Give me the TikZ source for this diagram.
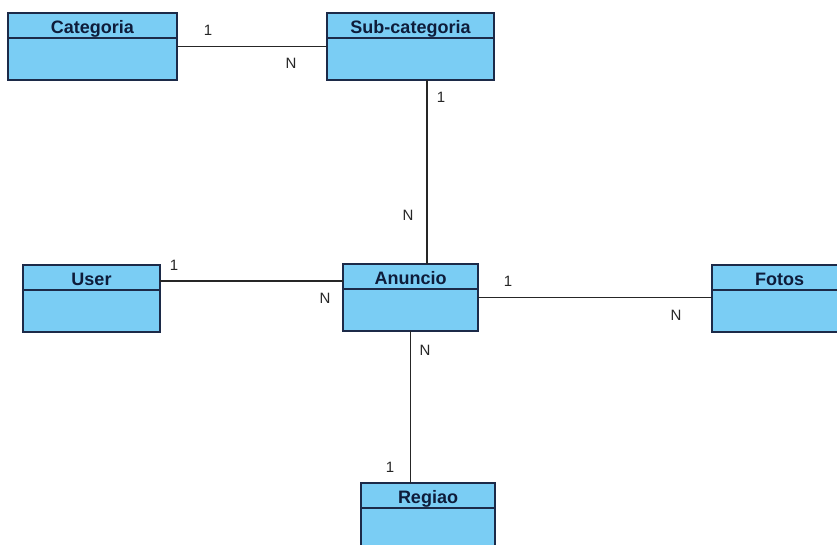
\documentclass[tikz,border=0pt]{standalone}
\usepackage{fontspec}
\setmainfont{Liberation Sans}
\begin{document}
\begin{tikzpicture}[x=1pt,y=-1pt,
  entity/.style={draw=boxline, fill=boxfill, line width=1.8pt, inner sep=0pt, outer sep=0pt,
    minimum height=67pt,
    path picture={\draw[boxline, line width=1.8pt]
      ([yshift=-25pt]path picture bounding box.north west) --
      ([yshift=-25pt]path picture bounding box.north east);}},
  title/.style={anchor=base, inner sep=0pt, font=\fontsize{18}{18}\selectfont\bfseries, text=titletext},
  card/.style={inner sep=0pt, font=\fontsize{15}{15}\selectfont, text=black!85},
  link/.style={draw=black!85, line width=1.6pt}]
\definecolor{boxfill}{RGB}{122,205,244}
\definecolor{boxline}{RGB}{28,42,72}
\definecolor{titletext}{RGB}{14,28,58}
\useasboundingbox (0,0) rectangle (837,544);

% entities
\node[entity, minimum width=169pt] (cat) at (92.5,46.5) {};
\node[entity, minimum width=167pt] (sub) at (410.5,46.5) {};
\node[entity, minimum width=137pt] (user) at (91.5,298.5) {};
\node[entity, minimum width=135pt] (an) at (410.5,297.5) {};
\node[entity, minimum width=135pt] (fotos) at (779.5,298.5) {};
\node[entity, minimum width=134pt] (reg) at (428,516.5) {};

% entity names
\node[title] (catT) at ([yshift=-20pt]cat.north) {Categoria};
\node[title] (subT) at ([yshift=-20pt]sub.north) {Sub-categoria};
\node[title] (userT) at ([yshift=-20pt]user.north) {User};
\node[title] (anT) at ([yshift=-20pt]an.north) {Anuncio};
\node[title] (fotosT) at ([yshift=-20pt]fotos.north) {Fotos};
\node[title] (regT) at ([yshift=-20pt]reg.north) {Regiao};

% relationships
\draw[link] (cat.east) -- (sub.west);
\draw[link] ([xshift=16.5pt]sub.south) -- ([xshift=16.5pt]sub.south |- an.north);
\draw[link] ([yshift=16.5pt]an.west) -- ([yshift=16.5pt]an.west -| user.east);
\draw[link] (an.east) -- (an.east -| fotos.west);
\draw[link] (an.south) -- (an.south |- reg.north);

% cardinalities
\node[card] (c1) at (208,30) {1};
\node[card] (c2) at (291,63) {N};
\node[card] (c3) at (441,97) {1};
\node[card] (c4) at (408,215) {N};
\node[card] (c5) at (174,265) {1};
\node[card] (c6) at (325,298) {N};
\node[card] (c7) at (508,281) {1};
\node[card] (c8) at (676,315) {N};
\node[card] (c9) at (425,350) {N};
\node[card] (c10) at (390,467) {1};
\end{tikzpicture}
\end{document}
